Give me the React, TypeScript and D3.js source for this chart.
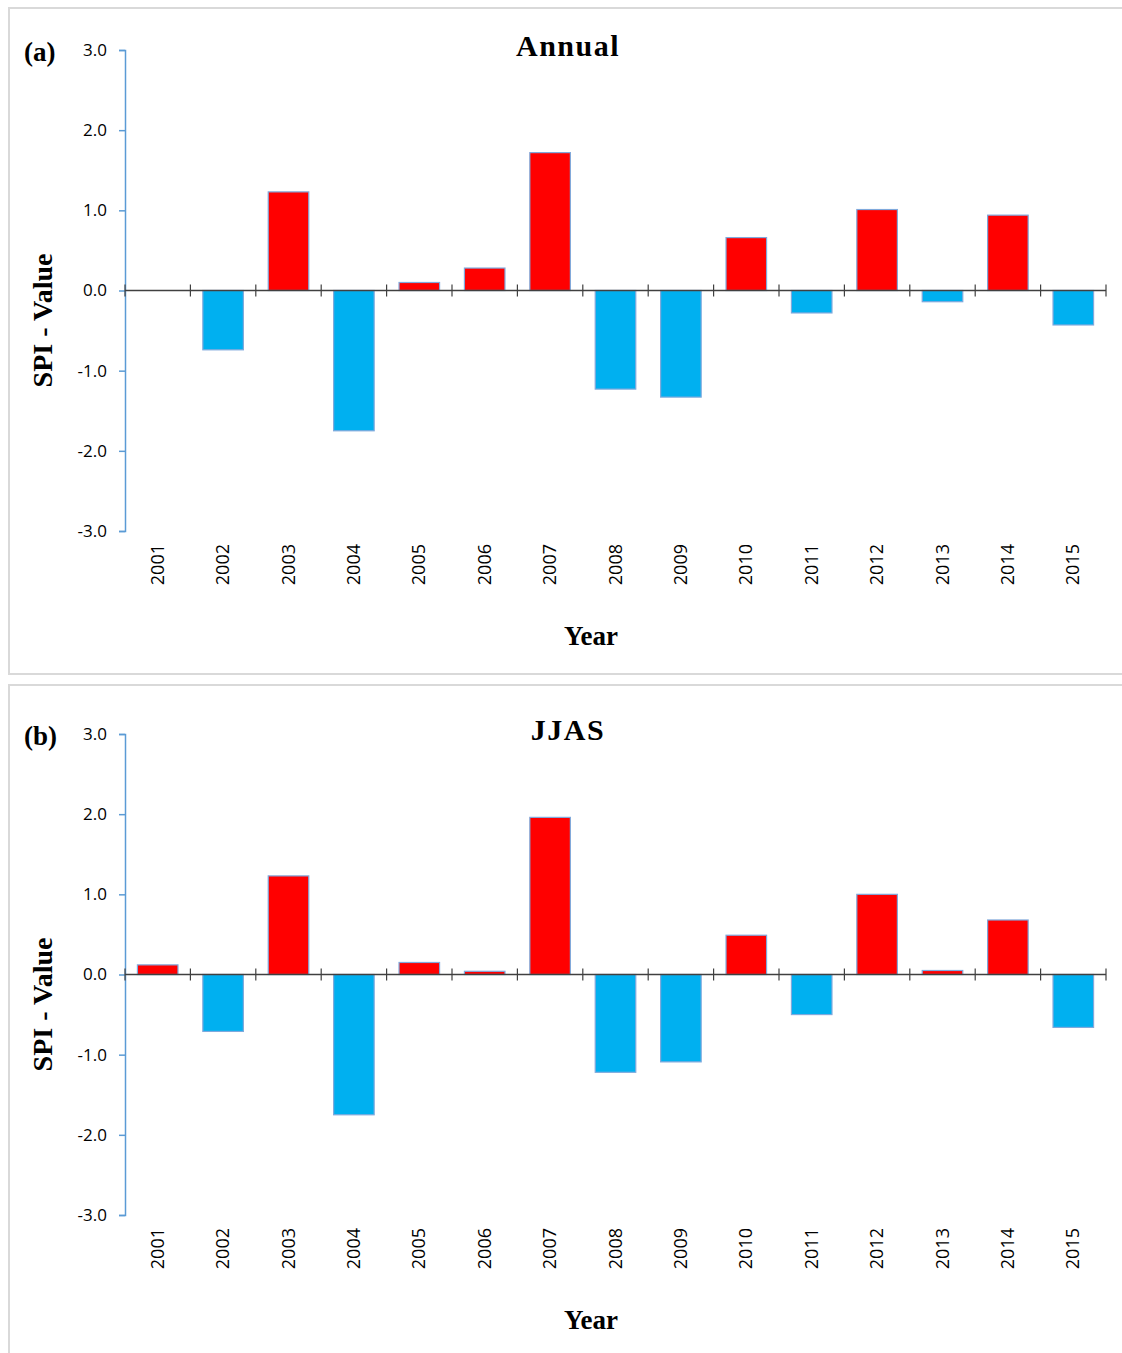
import React, { useEffect, useRef } from 'react';
import * as d3 from 'd3';

const years = ['2001', '2002', '2003', '2004', '2005', '2006', '2007', '2008', '2009', '2010', '2011', '2012', '2013', '2014', '2015'];
const annualSpi = [0.0, -0.74, 1.23, -1.75, 0.1, 0.28, 1.72, -1.23, -1.33, 0.66, -0.28, 1.01, -0.14, 0.94, -0.43];
const jjasSpi = [0.12, -0.71, 1.23, -1.75, 0.15, 0.04, 1.96, -1.22, -1.09, 0.49, -0.5, 1.0, 0.05, 0.68, -0.66];
const yTicks = [-3, -2, -1, 0, 1, 2, 3];

const panels = [
  { tag: '(a)', title: 'Annual', values: annualSpi, frameTop: 8, frameH: 666 },
  { tag: '(b)', title: 'JJAS', values: jjasSpi, frameTop: 1, frameH: 700 },
];

export default function App() {
  const ref = useRef<SVGSVGElement>(null);

  useEffect(() => {
    if (!ref.current) return;
    const svg = d3.select(ref.current);
    svg.selectAll('*').remove();

    const left = 125, right = 1106;
    const serif = '"Liberation Serif", "Times New Roman", serif';
    const sans = '"Open Sans", "Liberation Sans", sans-serif';
    const fmt = (d: number) => d3.format('.1f')(d).replace('−', '-');

    panels.forEach((p, i) => {
      const off = i * 684;
      const g = svg.append('g').attr('transform', `translate(0,${off})`);

      // panel frame
      g.append('rect')
        .attr('x', 9).attr('y', p.frameTop)
        .attr('width', 1130).attr('height', p.frameH)
        .attr('fill', 'white').attr('stroke', '#d9d9d9').attr('stroke-width', 2);

      const x = d3.scaleBand().domain(years).range([left, right]).paddingInner(0.38).paddingOuter(0.19);
      const y = d3.scaleLinear().domain([-3, 3]).range([531, 50]);

      // bars
      g.selectAll('rect.bar')
        .data(p.values)
        .enter()
        .append('rect')
        .attr('class', 'bar')
        .attr('x', (d, j) => x(years[j])!)
        .attr('width', x.bandwidth())
        .attr('y', d => y(Math.max(0, d)))
        .attr('height', d => Math.abs(y(d) - y(0)))
        .attr('fill', d => (d >= 0 ? '#ff0000' : '#00b0f0'))
        .attr('stroke', '#7fa9dc')
        .attr('stroke-width', 1.2);

      // y axis
      const yAxis = g.append('g')
        .attr('transform', `translate(${left},0)`)
        .call(d3.axisLeft(y).tickValues(yTicks).tickFormat(d => fmt(+d)).tickSize(6).tickPadding(12));
      yAxis.select('.domain').attr('stroke', '#5b9bd5').attr('stroke-width', 1.5);
      yAxis.selectAll('.tick line').attr('stroke', '#5b9bd5').attr('stroke-width', 1.5);
      yAxis.selectAll('.tick text')
        .attr('font-family', sans).attr('font-size', 17).attr('fill', '#000');

      // x axis at zero with crossing ticks
      const boundaries = d3.range(years.length + 1).map(k => left + (k * (right - left)) / years.length);
      g.append('line')
        .attr('x1', left).attr('x2', right)
        .attr('y1', y(0)).attr('y2', y(0))
        .attr('stroke', '#404040').attr('stroke-width', 1.5);
      g.selectAll('line.xt')
        .data(boundaries)
        .enter()
        .append('line')
        .attr('class', 'xt')
        .attr('x1', d => d).attr('x2', d => d)
        .attr('y1', y(0) - 6).attr('y2', y(0) + 6)
        .attr('stroke', '#404040').attr('stroke-width', 1.2);

      // year labels
      g.selectAll('text.yr')
        .data(years)
        .enter()
        .append('text')
        .attr('class', 'yr')
        .attr('transform', d => `translate(${x(d)! + x.bandwidth() / 2 + 6},544) rotate(-90)`)
        .attr('text-anchor', 'end')
        .attr('font-family', sans).attr('font-size', 18)
        .text(d => d);

      // titles
      g.append('text')
        .attr('x', 568).attr('y', 56)
        .attr('text-anchor', 'middle')
        .attr('font-family', serif).attr('font-weight', 'bold').attr('font-size', 30)
        .attr('letter-spacing', 1.5)
        .text(p.title);
      g.append('text')
        .attr('x', 24).attr('y', 61)
        .attr('font-family', serif).attr('font-weight', 'bold').attr('font-size', 27)
        .text(p.tag);
      g.append('text')
        .attr('x', 591).attr('y', 645)
        .attr('text-anchor', 'middle')
        .attr('font-family', serif).attr('font-weight', 'bold').attr('font-size', 27)
        .text('Year');
      g.append('text')
        .attr('transform', `translate(52,${y(0) + 30}) rotate(-90)`)
        .attr('text-anchor', 'middle')
        .attr('font-family', serif).attr('font-weight', 'bold').attr('font-size', 28)
        .text('SPI - Value');
    });
  }, []);

  return (
    <svg
      ref={ref}
      width={1122}
      height={1353}
      style={{ position: 'absolute', left: 0, top: 0, background: 'white' }}
    />
  );
}
